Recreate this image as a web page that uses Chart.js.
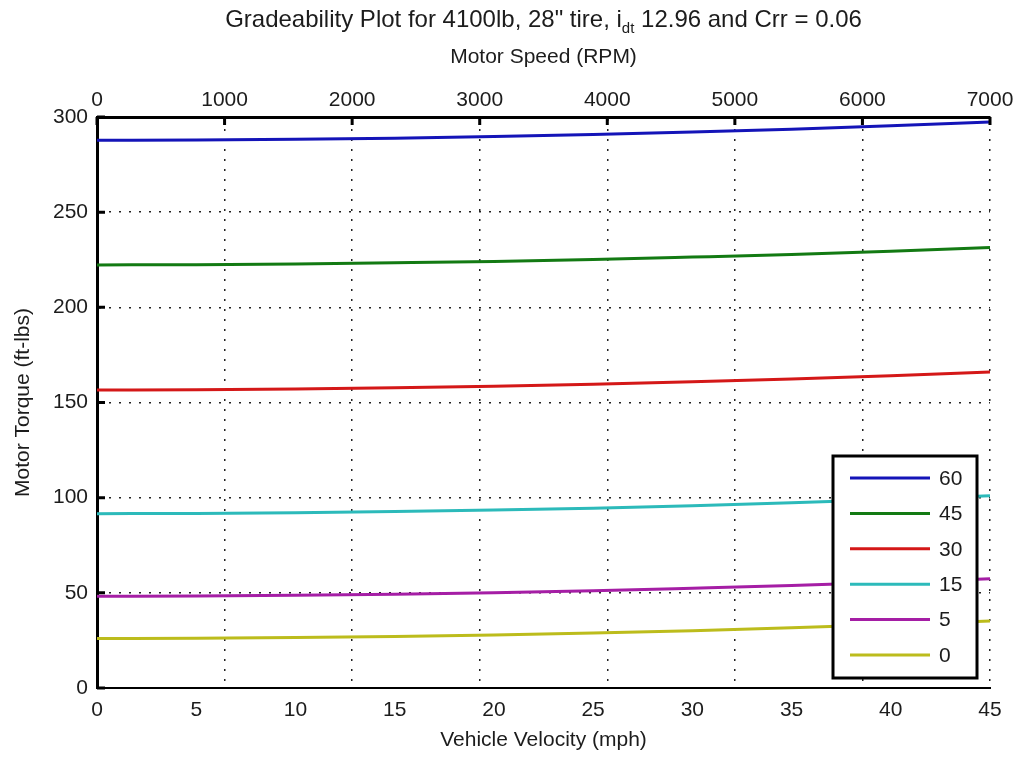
<!DOCTYPE html>
<html>
<head>
<meta charset="utf-8">
<title>Gradeability Plot</title>
<script src="https://cdn.jsdelivr.net/npm/chart.js@4.4.1/dist/chart.umd.min.js"></script>
<style>
  body { margin: 0; background: #fff; }
  #wrap { width: 1019px; height: 757px; }
</style>
</head>
<body>
<div id="wrap"><canvas id="gradeChart" width="1019" height="757"></canvas></div>
<script>
// Vehicle speed samples (mph) and the motor torque needed for each grade (%)
const velocity = [0, 5, 10, 15, 20, 25, 30, 35, 40, 45];
const torque60 = [287.8, 287.9, 288.3, 288.9, 289.7, 290.8, 292.1, 293.6, 295.4, 297.4];
const torque45 = [222.3, 222.4, 222.8, 223.4, 224.1, 225.1, 226.4, 227.8, 229.5, 231.4];
const torque30 = [156.6, 156.7, 157.1, 157.7, 158.5, 159.6, 160.9, 162.4, 164.1, 166.0];
const torque15 = [91.6, 91.7, 92.1, 92.7, 93.5, 94.5, 95.8, 97.3, 99.0, 101.0];
const torque5  = [48.2, 48.3, 48.7, 49.3, 50.1, 51.1, 52.4, 53.8, 55.5, 57.4];
const torque0  = [26.0, 26.1, 26.5, 27.1, 27.9, 28.9, 30.1, 31.6, 33.3, 35.2];

const gradeLabels = ['60', '45', '30', '15', '5', '0'];
const gradeColors = ['#1414b8', '#137a13', '#d41818', '#2cbaba', '#a51ea5', '#bcbc1c'];

// axis ticks
const velocityTicks = [0, 5, 10, 15, 20, 25, 30, 35, 40, 45];
const rpmTicks = [0, 1000, 2000, 3000, 4000, 5000, 6000, 7000];
const torqueTicks = [0, 50, 100, 150, 200, 250, 300];

const FONT = '"Liberation Sans", Arial, Helvetica, sans-serif';
const TEXT = '#1c1c1c';

Chart.defaults.font.family = FONT;
Chart.defaults.font.size = 21;
Chart.defaults.color = TEXT;

const allSeries = [torque60, torque45, torque30, torque15, torque5, torque0];

const datasets = allSeries.map((vals, i) => ({
    label: gradeLabels[i],
    data: velocity.map((v, k) => ({ x: v, y: vals[k] })),
    borderColor: gradeColors[i],
    backgroundColor: gradeColors[i],
    borderWidth: 3,
    pointRadius: 0,
    fill: false,
    cubicInterpolationMode: 'monotone',
    xAxisID: 'x',
    yAxisID: 'y'
}));

function setTicks(list) {
    return function(scale) { scale.ticks = list.map(v => ({ value: v })); };
}

// plain numbers, no thousands separator
function plain(value) { return String(value); }

// big title with the i_dt subscript
const mainTitle = {
    id: 'mainTitle',
    afterDraw(chart) {
        const { ctx, chartArea: a } = chart;
        const part1 = 'Gradeability Plot for 4100lb, 28" tire, i';
        const sub = 'dt';
        const part2 = ' 12.96 and Crr = 0.06';
        ctx.save();
        ctx.fillStyle = TEXT;
        ctx.textBaseline = 'middle';
        ctx.textAlign = 'left';
        ctx.font = '24px ' + FONT;
        const w1 = ctx.measureText(part1).width;
        const w3 = ctx.measureText(part2).width;
        ctx.font = '15px ' + FONT;
        const w2 = ctx.measureText(sub).width;
        let x = (a.left + a.right) / 2 - (w1 + w2 + w3) / 2;
        const y = 20;
        ctx.font = '24px ' + FONT;
        ctx.fillText(part1, x, y);
        x += w1;
        ctx.font = '15px ' + FONT;
        ctx.fillText(sub, x, y + 9);
        x += w2;
        ctx.font = '24px ' + FONT;
        ctx.fillText(part2, x, y);
        ctx.restore();
    }
};

// inward tick marks on the top and left axes
const frameTicks = {
    id: 'frameTicks',
    afterDatasetsDraw(chart) {
        const { ctx, chartArea: a, scales } = chart;
        ctx.save();
        ctx.strokeStyle = '#000';
        ctx.lineWidth = 3;
        ctx.beginPath();
        rpmTicks.forEach(v => {
            const x = scales.x2.getPixelForValue(v);
            ctx.moveTo(x, a.top);
            ctx.lineTo(x, a.top + 8);
        });
        torqueTicks.forEach(v => {
            const y = scales.y.getPixelForValue(v);
            ctx.moveTo(a.left, y);
            ctx.lineTo(a.left + 8, y);
        });
        ctx.stroke();
        ctx.restore();
    }
};

// boxed legend in the lower right corner of the plot
const boxLegend = {
    id: 'boxLegend',
    afterDraw(chart) {
        const { ctx, chartArea: a } = chart;
        const w = 144, h = 222;
        const left = a.right - 13 - w;
        const top = a.bottom - 10 - h;
        ctx.save();
        ctx.fillStyle = '#fff';
        ctx.fillRect(left, top, w, h);
        ctx.lineWidth = 3;
        ctx.strokeStyle = '#000';
        ctx.strokeRect(left, top, w, h);
        ctx.font = '21px ' + FONT;
        ctx.textBaseline = 'middle';
        ctx.textAlign = 'left';
        chart.data.datasets.forEach((ds, i) => {
            const y = top + 22 + i * 35.4;
            ctx.strokeStyle = ds.borderColor;
            ctx.lineWidth = 3;
            ctx.beginPath();
            ctx.moveTo(left + 17, y);
            ctx.lineTo(left + 97, y);
            ctx.stroke();
            ctx.fillStyle = TEXT;
            ctx.fillText(ds.label, left + 106, y + 1);
        });
        ctx.restore();
    }
};

const dotted = [2, 8];

new Chart(document.getElementById('gradeChart'), {
    type: 'line',
    data: { datasets: datasets },
    plugins: [mainTitle, frameTicks, boxLegend],
    options: {
        responsive: false,
        animation: false,
        layout: { padding: { left: 0, right: 29, top: 0, bottom: 0 } },
        plugins: {
            legend: { display: false },
            tooltip: { enabled: false },
            title: { display: false }
        },
        scales: {
            x: {
                type: 'linear',
                position: 'bottom',
                min: 0,
                max: 45,
                afterBuildTicks: setTicks(velocityTicks),
                afterFit(scale) { scale.height = 69; },
                grid: { display: false },
                border: { display: true, color: '#000', width: 2 },
                ticks: { padding: 2, maxRotation: 0, autoSkip: false, callback: plain },
                title: { display: true, text: 'Vehicle Velocity (mph)', padding: { top: 0, bottom: 4 } }
            },
            x2: {
                type: 'linear',
                position: 'top',
                min: 0,
                max: 7000,
                afterBuildTicks: setTicks(rpmTicks),
                afterFit(scale) { scale.height = 117; },
                grid: { display: true, drawTicks: false, color: '#222', lineWidth: 1.5 },
                border: { display: true, color: '#000', width: 3, dash: dotted },
                ticks: { padding: 4, maxRotation: 0, autoSkip: false, callback: plain },
                title: { display: true, text: 'Motor Speed (RPM)', padding: { top: 45, bottom: 0 } }
            },
            y: {
                type: 'linear',
                position: 'left',
                min: 0,
                max: 300,
                afterBuildTicks: setTicks(torqueTicks),
                afterFit(scale) { scale.width = 97; },
                grid: { display: true, drawTicks: false, color: '#222', lineWidth: 1.5 },
                border: { display: true, color: '#000', width: 3, dash: dotted },
                ticks: { padding: 9, autoSkip: false, callback: plain },
                title: { display: true, text: 'Motor Torque (ft-lbs)', padding: { top: 11, bottom: 0 } }
            }
        }
    }
});
</script>
</body>
</html>
